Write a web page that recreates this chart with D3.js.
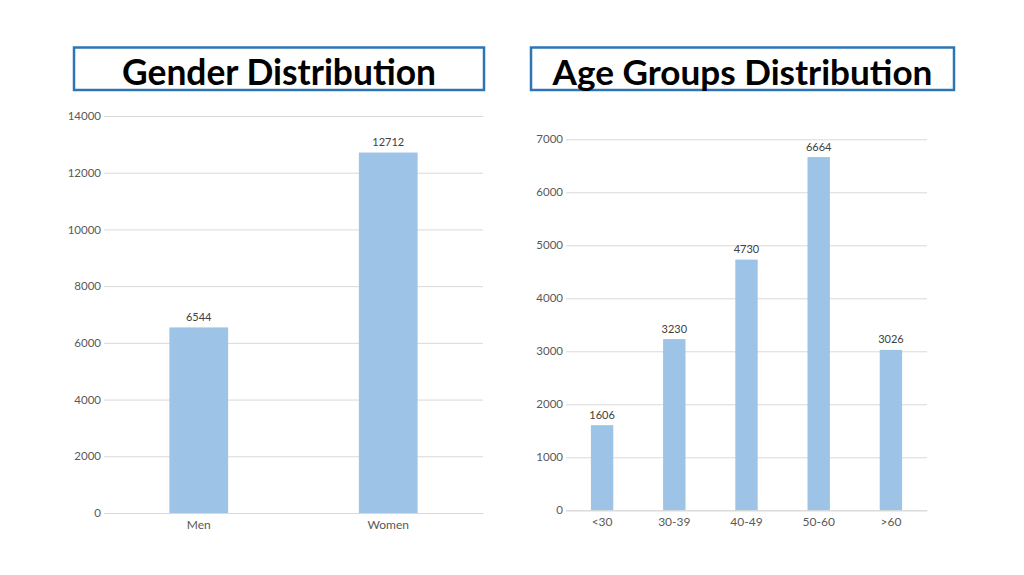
<!DOCTYPE html>
<html>
<head>
<meta charset="utf-8">
<script src="https://cdn.jsdelivr.net/npm/d3@7"></script>
<style>
  html, body { margin: 0; padding: 0; background: #fff; }
  svg { display: block; font-family: Lato, "Open Sans", sans-serif; }
</style>
</head>
<body>
<svg id="chart" width="1024" height="575"></svg>
<script>
// ---- Data ----
const genderCategories = ["Men", "Women"];
const genderValues = [6544, 12712];
const genderTicks = [0, 2000, 4000, 6000, 8000, 10000, 12000, 14000];

const ageCategories = ["<30", "30-39", "40-49", "50-60", ">60"];
const ageValues = [1606, 3230, 4730, 6664, 3026];
const ageTicks = [0, 1000, 2000, 3000, 4000, 5000, 6000, 7000];

const titles = ["Gender Distribution", "Age Groups Distribution"];

// ---- Styles ----
const barColor = "#9dc3e6";
const gridColor = "#d9d9d9";
const textColor = "#595959";
const boxColor = "#2e75b6";

const svg = d3.select("#chart");

function titleBox(x0, x1, y0, y1, text, targetWidth) {
  svg.append("rect")
    .attr("x", x0).attr("y", y0)
    .attr("width", x1 - x0).attr("height", y1 - y0)
    .attr("fill", "none").attr("stroke", boxColor).attr("stroke-width", 2.5);
  const t = svg.append("text")
    .attr("x", (x0 + x1) / 2).attr("y", 85)
    .attr("text-anchor", "middle")
    .attr("font-weight", "bold")
    .attr("font-size", 34)
    .attr("fill", "#000")
    .text(text);
  const w = t.node().getComputedTextLength();
  t.attr("font-size", 34 * targetWidth / w);
}

function barChart(opts) {
  const { cats, vals, ticks, x0, x1, yTop, yBottom } = opts;
  const x = d3.scaleBand().domain(cats).range([x0, x1])
    .paddingInner(0.69).paddingOuter(0.345);
  const y = d3.scaleLinear().domain([0, d3.max(ticks)]).range([yBottom, yTop]);

  const g = svg.append("g");

  // gridlines + y labels
  const yAxis = d3.axisLeft(y).tickValues(ticks).tickSize(-(x1 - x0)).tickPadding(3).tickFormat(d3.format("d"));
  const ya = g.append("g").attr("transform", `translate(${x0},0)`).call(yAxis);
  ya.select(".domain").remove();
  ya.selectAll(".tick line").attr("stroke", gridColor).attr("stroke-width", 1);
  ya.selectAll(".tick text").attr("fill", textColor).attr("font-size", 11.5)
    .attr("font-family", "Lato, sans-serif");

  // bars
  g.selectAll("rect.bar").data(vals).join("rect")
    .attr("class", "bar")
    .attr("x", (d, i) => x(cats[i]))
    .attr("width", x.bandwidth())
    .attr("y", d => y(d))
    .attr("height", d => yBottom - y(d))
    .attr("fill", barColor);

  // value labels
  g.selectAll("text.val").data(vals).join("text")
    .attr("class", "val")
    .attr("x", (d, i) => x(cats[i]) + x.bandwidth() / 2)
    .attr("y", d => y(d) - 6.5)
    .attr("text-anchor", "middle")
    .attr("font-size", 11)
    .attr("fill", "#404040")
    .text(d => d);

  // x axis
  const xAxis = d3.axisBottom(x).tickSize(0).tickPadding(7);
  const xa = g.append("g").attr("transform", `translate(0,${yBottom})`).call(xAxis);
  xa.select(".domain").attr("stroke", gridColor);
  xa.selectAll(".tick text").attr("fill", textColor).attr("font-size", 12)
    .attr("font-family", "Lato, sans-serif");
}

titleBox(74, 484, 47.5, 90, titles[0], 314);
titleBox(531, 954, 47.5, 90, titles[1], 380);

barChart({ cats: genderCategories, vals: genderValues, ticks: genderTicks,
  x0: 104, x1: 483, yTop: 116, yBottom: 513 });
barChart({ cats: ageCategories, vals: ageValues, ticks: ageTicks,
  x0: 566, x1: 927, yTop: 139.3, yBottom: 510.3 });
</script>
</body>
</html>
